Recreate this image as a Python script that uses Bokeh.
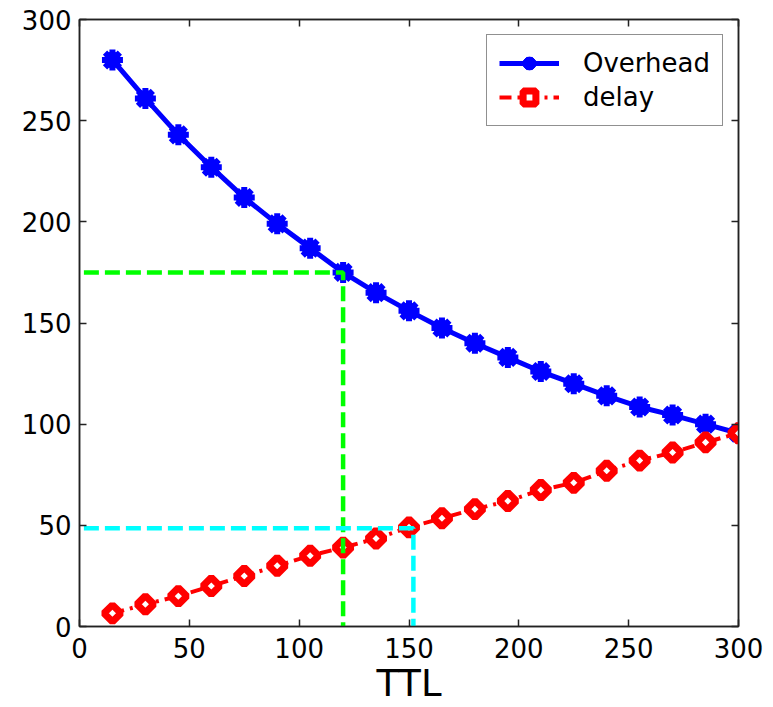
import math
from bokeh.plotting import figure
from bokeh.models import LinearAxis, FixedTicker, CustomJSTickFormatter, Range1d, Legend, LegendItem
from bokeh.embed import file_html
from bokeh.resources import INLINE

# ---- data ----
ttl = [15, 30, 45, 60, 75, 90, 105, 120, 135, 150, 165, 180, 195, 210, 225, 240, 255, 270, 285, 300]
overhead = [280, 261, 243, 227, 212, 199, 187, 175, 165, 156, 147.5, 140, 133, 126, 120, 114, 108.5, 104.5, 100, 95.5]
delay = [6.5, 11, 15, 20, 25, 30, 35, 39, 43.5, 49, 53.5, 58, 62, 67.5, 71, 77, 82, 86, 91, 95.5]
ticks = [0, 50, 100, 150, 200, 250, 300]

# reference guide lines (x start, corner x, corner y)
guide_x0 = 2
green_x, green_y = 120, 175
cyan_x, cyan_y = 152, 48.5

FONT = "DejaVu Sans"

p = figure(width=765, height=707, output_backend="svg", toolbar_location=None,
           x_range=Range1d(0, 300), y_range=Range1d(0, 300),
           min_border_left=79, min_border_top=19, min_border_right=27, min_border_bottom=70)
p.background_fill_color = "white"
p.border_fill_color = "white"
p.grid.visible = False
p.outline_line_color = "#222222"
p.outline_line_width = 1.5

for ax in (p.xaxis[0], p.yaxis[0]):
    ax.ticker = FixedTicker(ticks=ticks)
    ax.major_tick_in = 7
    ax.major_tick_out = 0
    ax.minor_tick_line_color = None
    ax.axis_line_color = "#222222"
    ax.axis_line_width = 1.5
    ax.major_tick_line_width = 1.5
    ax.major_tick_line_color = "#222222"
    ax.major_label_text_font = FONT
    ax.major_label_text_font_size = "26px"
    ax.major_label_text_color = "black"

p.xaxis.major_label_standoff = 11
p.yaxis.major_label_standoff = 8
p.xaxis.axis_label = "TTL"
p.xaxis.axis_label_text_font = FONT
p.xaxis.axis_label_text_font_size = "37px"
p.xaxis.axis_label_text_font_style = "normal"
p.xaxis.axis_label_text_color = "black"
p.xaxis.axis_label_standoff = 1

blank = CustomJSTickFormatter(code="return ''")
for loc in ("above", "right"):
    ax = LinearAxis(ticker=FixedTicker(ticks=ticks), formatter=blank,
                    major_tick_in=7, major_tick_out=0,
                    minor_tick_line_color=None,
                    axis_line_color="#222222", axis_line_width=1.5,
                    major_tick_line_width=1.5, major_tick_line_color="#222222",
                    major_label_text_font_size="1px", major_label_standoff=0)
    p.add_layout(ax, loc)

# ---- series ----
l1 = p.line(ttl, overhead, line_color="blue", line_width=5)
s1 = p.scatter(ttl, overhead, marker="asterisk", size=21, line_color="blue", line_width=6)
s1b = p.scatter(ttl, overhead, marker="circle", size=16, fill_color="blue", line_color="blue")

l2 = p.line(ttl, delay, line_color="red", line_width=4, line_dash="12 6 3 6")
s2 = p.scatter(ttl, delay, marker="square", angle=math.pi / 4, size=12,
               fill_color="white", line_color="red", line_width=7)

# ---- guide lines ----
p.line([guide_x0, green_x, green_x], [green_y, green_y, 0], line_color="#00ff00", line_width=4.5, line_dash="15 6")
p.line([guide_x0, cyan_x, cyan_x], [cyan_y, cyan_y, 0], line_color="#00ffff", line_width=4.5, line_dash="15 6")

legend = Legend(items=[LegendItem(label="Overhead", renderers=[l1, s1, s1b]),
                       LegendItem(label="delay", renderers=[l2, s2])],
                location="top_right", margin=15, padding=12, spacing=2,
                glyph_width=60, glyph_height=32, label_standoff=24,
                label_text_font=FONT, label_text_font_size="26px",
                label_text_color="black",
                border_line_color="#222222", border_line_width=1.2,
                background_fill_color="white", background_fill_alpha=1.0)
p.add_layout(legend, "center")

open("out.html", "w").write(file_html(p, INLINE))
